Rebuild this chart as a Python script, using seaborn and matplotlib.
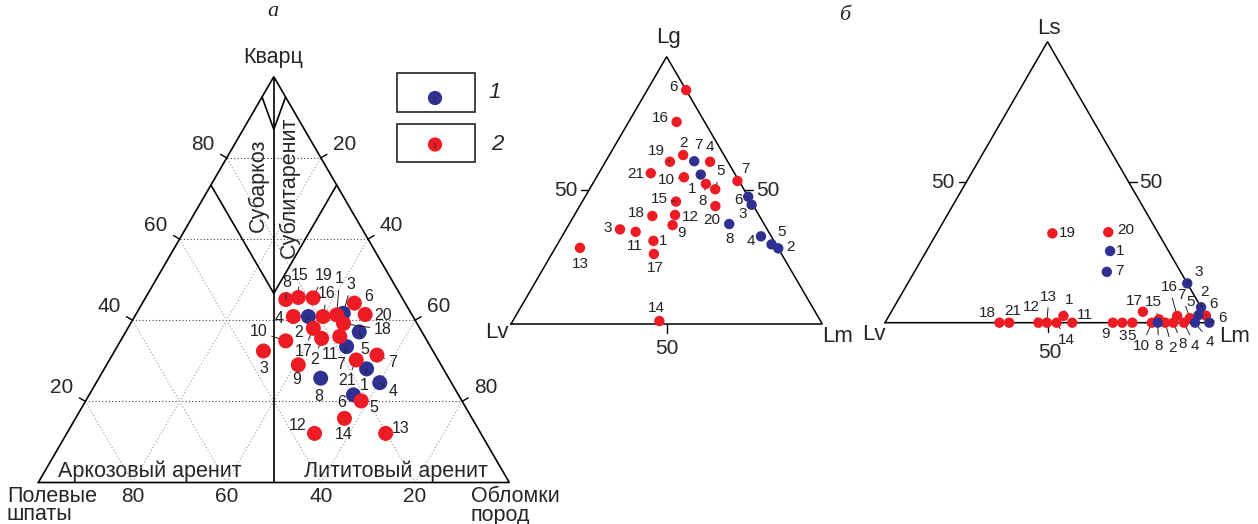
import numpy as np
import pandas as pd
import matplotlib
matplotlib.use("Agg")
import matplotlib.pyplot as plt
import seaborn as sns

sns.set_style("white")
plt.rcParams["font.family"] = ["Liberation Sans", "DejaVu Sans"]

RED = "#ed1c24"
BLUE = "#2e3192"

# ---------------- DATA ----------------
# Panel a: Q (Кварц), F (Полевые шпаты), L (Обломки пород), %
a_red_labels = [str(i) for i in range(1, 22)]
a_red_Q = [41.3, 35.5, 32.4, 40.9, 20.1, 44.2, 31.4, 45.1, 29.0, 34.9, 36.0,
           12.1, 12.1, 15.8, 45.6, 40.9, 38.0, 39.2, 45.5, 41.4, 30.2]
a_red_F = [16.0, 22.1, 36.0, 25.4, 21.4, 10.8, 12.4, 24.9, 30.3, 30.0, 18.0,
           35.3, 20.2, 27.1, 22.0, 19.1, 22.6, 15.6, 18.9, 9.9, 17.4]
a_red_L = [42.7, 42.4, 31.6, 33.7, 58.5, 45.0, 56.2, 30.0, 40.7, 35.1, 46.0,
           52.6, 67.7, 57.1, 32.4, 40.0, 39.4, 45.2, 35.6, 48.7, 52.4]
a_blue_labels = [str(i) for i in range(1, 9)]
a_blue_Q = [28.0, 40.9, 41.7, 24.6, 37.1, 21.6, 33.5, 25.7]
a_blue_F = [16.3, 22.2, 14.4, 15.2, 13.3, 22.3, 17.8, 27.2]
a_blue_L = [55.7, 36.9, 43.9, 60.2, 49.6, 56.1, 48.7, 47.1]

# Panel b1: Lg (top), Lm (right), Lv (left), %
b1_red_Lg = [31.1, 63.2, 35.4, 60.7, 50.4, 87.5, 53.5, 52.4, 37.0, 54.9, 34.5,
             40.8, 28.5, 1.1, 45.8, 75.6, 26.2, 40.4, 60.7, 44.1, 56.4]
b1_red_Lm = [30.2, 23.7, 17.3, 33.6, 40.4, 12.5, 46.0, 36.4, 33.4, 28.1, 22.8,
             32.3, 7.9, 47.1, 30.1, 15.4, 32.8, 25.2, 20.7, 43.6, 16.7]
b1_red_Lv = [38.7, 13.1, 47.3, 5.7, 9.2, 0.0, 0.5, 11.2, 29.6, 17.0, 42.7,
             26.9, 63.6, 51.8, 24.1, 9.0, 41.0, 34.4, 18.6, 12.3, 26.9]
b1_blue_Lg = [55.9, 28.3, 44.6, 32.8, 29.8, 47.6, 60.9, 37.4]
b1_blue_Lm = [33.0, 71.7, 55.0, 63.9, 68.8, 52.4, 28.4, 51.4]
b1_blue_Lv = [11.1, 0.0, 0.4, 3.3, 1.4, 0.0, 10.7, 11.2]

# Panel b2: Ls (top), Lm (right), Lv (left), %
b2_red_Ls = [2.4, 0.0, 0.0, 0.0, 0.0, 2.5, 1.6, 0.0, 0.0, 0.0, 0.0,
             0.0, 0.0, 0.0, 1.2, 2.4, 3.9, 0.0, 31.8, 32.2, 0.0]
b2_red_Lm = [53.7, 86.2, 73.0, 92.0, 76.1, 97.5, 93.0, 88.7, 70.1, 82.1, 57.6,
             47.2, 49.8, 52.8, 83.7, 88.7, 77.4, 35.2, 35.6, 52.6, 38.2]
b2_red_Lv = [43.9, 13.8, 27.0, 8.0, 23.9, 0.0, 5.4, 11.3, 29.9, 17.9, 42.4,
             52.8, 50.2, 47.2, 15.1, 8.9, 18.7, 64.8, 32.6, 15.2, 61.8]
b2_blue_Ls = [25.5, 5.5, 14.0, 0.0, 2.7, 0.0, 18.1, 0.0]
b2_blue_Lm = [56.5, 94.5, 86.0, 95.4, 95.1, 99.8, 59.2, 83.9]
b2_blue_Lv = [18.0, 0.0, 0.0, 4.6, 2.2, 0.2, 22.7, 16.1]

tick_vals = [20, 40, 60, 80]

# ---------------- LAYOUT (pixels, y down) ----------------
W_PX, H_PX = 1258, 524
# label offsets (dx, dy, leader line)
a_red_off = [(3, -36, 1), (-7, 21, 1), (0, 17, 0), (-14, 2, 0), (13, 7, 0), (14, -7, 0),
             (16, 7, 1), (1, -17, 1), (-2, 15, 0), (-27, -9, 1), (-10, 18, 1), (-17, -8, 0),
             (15, -5, 0), (-1, 16, 0), (1, -22, 1), (4, -23, 1), (-10, 23, 1), (39, 6, 1),
             (10, -22, 1), (18, 1, 0), (-9, 21, 1)]
a_blue_off = [(-2, 17, 1), (-10, 16, 1), (8, -29, 1), (13, 9, 1), (6, 18, 1), (-12, 8, 0),
              (-6, 18, 1), (-2, 18, 0)]
b1_red_off = [(10, 0, 0), (0, -12, 0), (-12, -1, 0), (0, -15, 0), (5, -18, 1), (-13, -3, 0),
              (8, -12, 0), (-3, 17, 1), (9, 8, 0), (-18, 3, 1), (-1, 14, 0), (15, 2, 0),
              (0, 16, 0), (-3, -13, 0), (-17, -3, 1), (-16, -4, 0), (1, 14, 0), (-16, -3, 0),
              (-14, -11, 1), (-4, 14, 0), (-15, 1, 0)]
b1_blue_off = [(-9, 14, 1), (12, -1, 0), (-9, 9, 0), (-10, 5, 0), (10, -12, 0), (-10, 3, 0),
               (4, -16, 0), (0, 15, 0)]
b2_red_off = [(6, -16, 1), (7, 25, 1), (0, 13, 0), (11, 23, 1), (-1, 13, 0), (8, -12, 1),
              (-8, -23, 1), (9, 21, 1), (-7, 11, 0), (-10, 23, 1), (13, -8, 0), (-7, -16, 1),
              (2, -26, 1), (10, 17, 1), (-6, -17, 1), (-8, -29, 1), (-9, -11, 0), (-12, -10, 0),
              (15, 0, 0), (17, -2, 0), (4, -12, 0)]
b2_blue_off = [(10, 0, 0), (3, -15, 1), (11, -11, 1), (15, 19, 1), (-8, -13, 1), (13, -5, 1),
               (13, -1, 0), (1, 23, 1)]

fig = plt.figure(figsize=(W_PX / 100, H_PX / 100), dpi=100)
H3 = np.sqrt(3) / 2


def panel_axes(xb, yb, wpx, hpx):
    """Axes in ternary unit coords: base-left vertex at pixel (xb,yb), base wpx, height hpx."""
    ax = fig.add_axes([0, 0, 1, 1])
    sx, sy = wpx, hpx / H3
    ax.set_xlim(-xb / sx, (W_PX - xb) / sx)
    ax.set_ylim((yb - H_PX) / sy, yb / sy)
    ax.axis("off")
    ax.patch.set_alpha(0)
    return ax


def tern(top, right, left):
    top, right, left = map(np.asarray, (top, right, left))
    s = top + right + left
    t, r = top / s, right / s
    return r + t / 2, t * H3


def outline(ax, lw=1.1):
    ax.plot([0, 1, 0.5, 0], [0, 0, H3, 0], color="black", lw=lw, solid_joinstyle="miter",
            clip_on=False)


def draw_points(ax, groups, size, fs, rpt):
    frames = []
    for g, (top, right, left, labels, offs, color) in groups:
        x, y = tern(top, right, left)
        frames.append(pd.DataFrame({"x": x, "y": y, "group": g, "label": labels}))
    df = pd.concat(frames, ignore_index=True)
    sns.scatterplot(data=df, x="x", y="y", hue="group",
                    palette={"1": BLUE, "2": RED}, s=size, edgecolor="none",
                    linewidth=0, legend=False, ax=ax, zorder=5, clip_on=False)
    for g, (top, right, left, labels, offs, color) in groups:
        x, y = tern(top, right, left)
        for xi, yi, lab, (dx, dy, ln) in zip(x, y, labels, offs):
            kw = {}
            if ln:
                kw["arrowprops"] = dict(arrowstyle="-", lw=0.7, color="#222222",
                                        shrinkA=0.5, shrinkB=rpt)
            ax.annotate(lab, xy=(xi, yi), xytext=(dx * 0.72, -dy * 0.72),
                        textcoords="offset points", ha="center", va="center",
                        fontsize=fs, color="#222222", zorder=6, **kw)


# overlay axes in pixel coordinates for free text / legend
ov = fig.add_axes([0, 0, 1, 1])
ov.set_xlim(0, W_PX)
ov.set_ylim(H_PX, 0)
ov.axis("off")
ov.patch.set_alpha(0)

BIG = 15.5
TICK = 15

# ================= Panel a =================
axa = panel_axes(38.3, 482.5, 471, 405.8)
# dotted grid
for v in np.array(tick_vals) / 100:
    axa.plot([v / 2, 1 - v / 2], [v * H3, v * H3], ls=(0, (1, 2)), color="#444444", lw=0.8, zorder=1)
    axa.plot([1 - v, (1 - v) / 2], [0, (1 - v) * H3], ls=(0, (1, 2)), color="#9a9a9a", lw=0.8, zorder=1)
    axa.plot([v, v + (1 - v) / 2], [0, (1 - v) * H3], ls=(0, (1, 2)), color="#9a9a9a", lw=0.8, zorder=1)
outline(axa, 1.2)
lk = dict(color="black", lw=1.2, zorder=2, solid_capstyle="butt")
axa.plot([0.5, 0.5], [0, H3], **lk)
# classification boundaries
qv_edge, qv_mid = 0.95, 0.87
axa.plot([qv_edge / 2, 0.5, 1 - qv_edge / 2], [qv_edge * H3, qv_mid * H3, qv_edge * H3], **lk)
qb_edge, qb_mid = 0.733, 0.466
axa.plot([qb_edge / 2, 0.5, 1 - qb_edge / 2], [qb_edge * H3, qb_mid * H3, qb_edge * H3], **lk)
# ticks and tick labels
tl = 7 / 471
nl = np.array([-np.sqrt(3) / 2, 0.5])
nr = np.array([np.sqrt(3) / 2, 0.5])
for v in np.array(tick_vals) / 100:
    pl = np.array([v / 2, v * H3])
    pr = np.array([1 - v / 2, v * H3])
    axa.plot(*zip(pl, pl + nl * tl), color="black", lw=1.0)
    axa.plot(*zip(pr, pr + nr * tl), color="black", lw=1.0)
    lp = pl + nl * 0.058
    rp = pr + nr * 0.058
    axa.text(lp[0], lp[1], f"{round(v * 100)}", ha="center", va="center", fontsize=TICK)
    axa.text(rp[0], rp[1], f"{round(100 - v * 100)}", ha="center", va="center", fontsize=TICK)
    axa.text(v, -0.029, f"{round(100 - v * 100)}", ha="center", va="center", fontsize=TICK)

draw_points(axa, [
    ("1", (a_blue_Q, a_blue_L, a_blue_F, a_blue_labels, a_blue_off, BLUE)),
    ("2", (a_red_Q, a_red_L, a_red_F, a_red_labels, a_red_off, RED)),
], size=117, fs=11.5, rpt=5.4)

ov.text(273.5, 58, "Кварц", ha="center", va="center", fontsize=BIG)
ov.text(7, 496, "Полевые", ha="left", va="center", fontsize=BIG)
ov.text(7, 515, "шпаты", ha="left", va="center", fontsize=BIG)
ov.text(471, 496, "Обломки", ha="left", va="center", fontsize=BIG)
ov.text(471, 515, "пород", ha="left", va="center", fontsize=BIG)
ov.text(150, 471, "Аркозовый аренит", ha="center", va="center", fontsize=BIG)
ov.text(396, 471, "Лититовый аренит", ha="center", va="center", fontsize=BIG)
ov.text(258, 185, "Субаркоз", ha="center", va="center", rotation=90, fontsize=BIG)
ov.text(289.5, 187, "Сублитаренит", ha="center", va="center", rotation=90, fontsize=BIG)
ov.text(273, 12, "а", ha="center", va="center", fontsize=16, style="italic",
        family=["Liberation Serif", "DejaVu Serif"])
ov.text(845, 15, "б", ha="center", va="center", fontsize=16, style="italic",
        family=["Liberation Serif", "DejaVu Serif"])

# legend
for (y0, y1, color, cy, tx, ty, lab) in [(73.3, 112.3, BLUE, 98, 495, 93, "1"),
                                          (124, 162.3, RED, 144.5, 497, 144, "2")]:
    ov.add_patch(plt.Rectangle((397.3, y0), 77.7, y1 - y0, fill=False, ec="#333333", lw=1.3))
    ov.scatter([435], [cy], s=105, color=color, edgecolor="none", zorder=5)
    ov.text(434, cy + 2, "1", fontsize=5, ha="center", va="center", color="#222222", zorder=6)
    ov.text(tx, ty, lab, fontsize=16, style="italic", ha="center", va="center")

# ================= Panel b1 (Lg-Lv-Lm) =================
axb = panel_axes(511, 324, 311.3, 267.3)
outline(axb, 1.1)
draw_points(axb, [
    ("2", (b1_red_Lg, b1_red_Lm, b1_red_Lv, a_red_labels, b1_red_off, RED)),
    ("1", (b1_blue_Lg, b1_blue_Lm, b1_blue_Lv, a_blue_labels, b1_blue_off, BLUE)),
], size=56, fs=11, rpt=3.8)
ov.plot([588.3, 580.5], [190.3, 190.3], color="black", lw=1.0)
ov.text(578, 190.3, "50", ha="right", va="center", fontsize=TICK)
ov.plot([744.3, 753], [190.3, 190.3], color="black", lw=1.0)
ov.text(756, 190.3, "50", ha="left", va="center", fontsize=TICK)
ov.plot([666.5, 666.5], [324, 333], color="black", lw=1.0)
ov.text(667, 348, "50", ha="center", va="center", fontsize=TICK)
ov.text(668.5, 38, "Lg", ha="center", va="center", fontsize=16)
ov.text(497, 333, "Lv", ha="center", va="center", fontsize=16)
ov.text(838, 336, "Lm", ha="center", va="center", fontsize=16)

# ================= Panel b2 (Ls-Lv-Lm) =================
axc = panel_axes(885, 322.7, 325, 281)
outline(axc, 1.1)
draw_points(axc, [
    ("2", (b2_red_Ls, b2_red_Lm, b2_red_Lv, a_red_labels, b2_red_off, RED)),
    ("1", (b2_blue_Ls, b2_blue_Lm, b2_blue_Lv, a_blue_labels, b2_blue_off, BLUE)),
], size=56, fs=11, rpt=3.8)
ov.plot([966, 958.5], [182.2, 182.2], color="black", lw=1.0)
ov.text(955, 182.2, "50", ha="right", va="center", fontsize=TICK)
ov.plot([1128.6, 1136.5], [182.2, 182.2], color="black", lw=1.0)
ov.text(1139, 182.2, "50", ha="left", va="center", fontsize=TICK)
ov.plot([1047.5, 1047.5], [322.7, 332], color="black", lw=1.0)
ov.text(1050, 352, "50", ha="center", va="center", fontsize=TICK)
ov.text(1048.5, 28, "Ls", ha="center", va="center", fontsize=16)
ov.text(874, 335, "Lv", ha="center", va="center", fontsize=16)
ov.text(1235, 337, "Lm", ha="center", va="center", fontsize=16)

fig.savefig("out.png", dpi=100, facecolor="white")
